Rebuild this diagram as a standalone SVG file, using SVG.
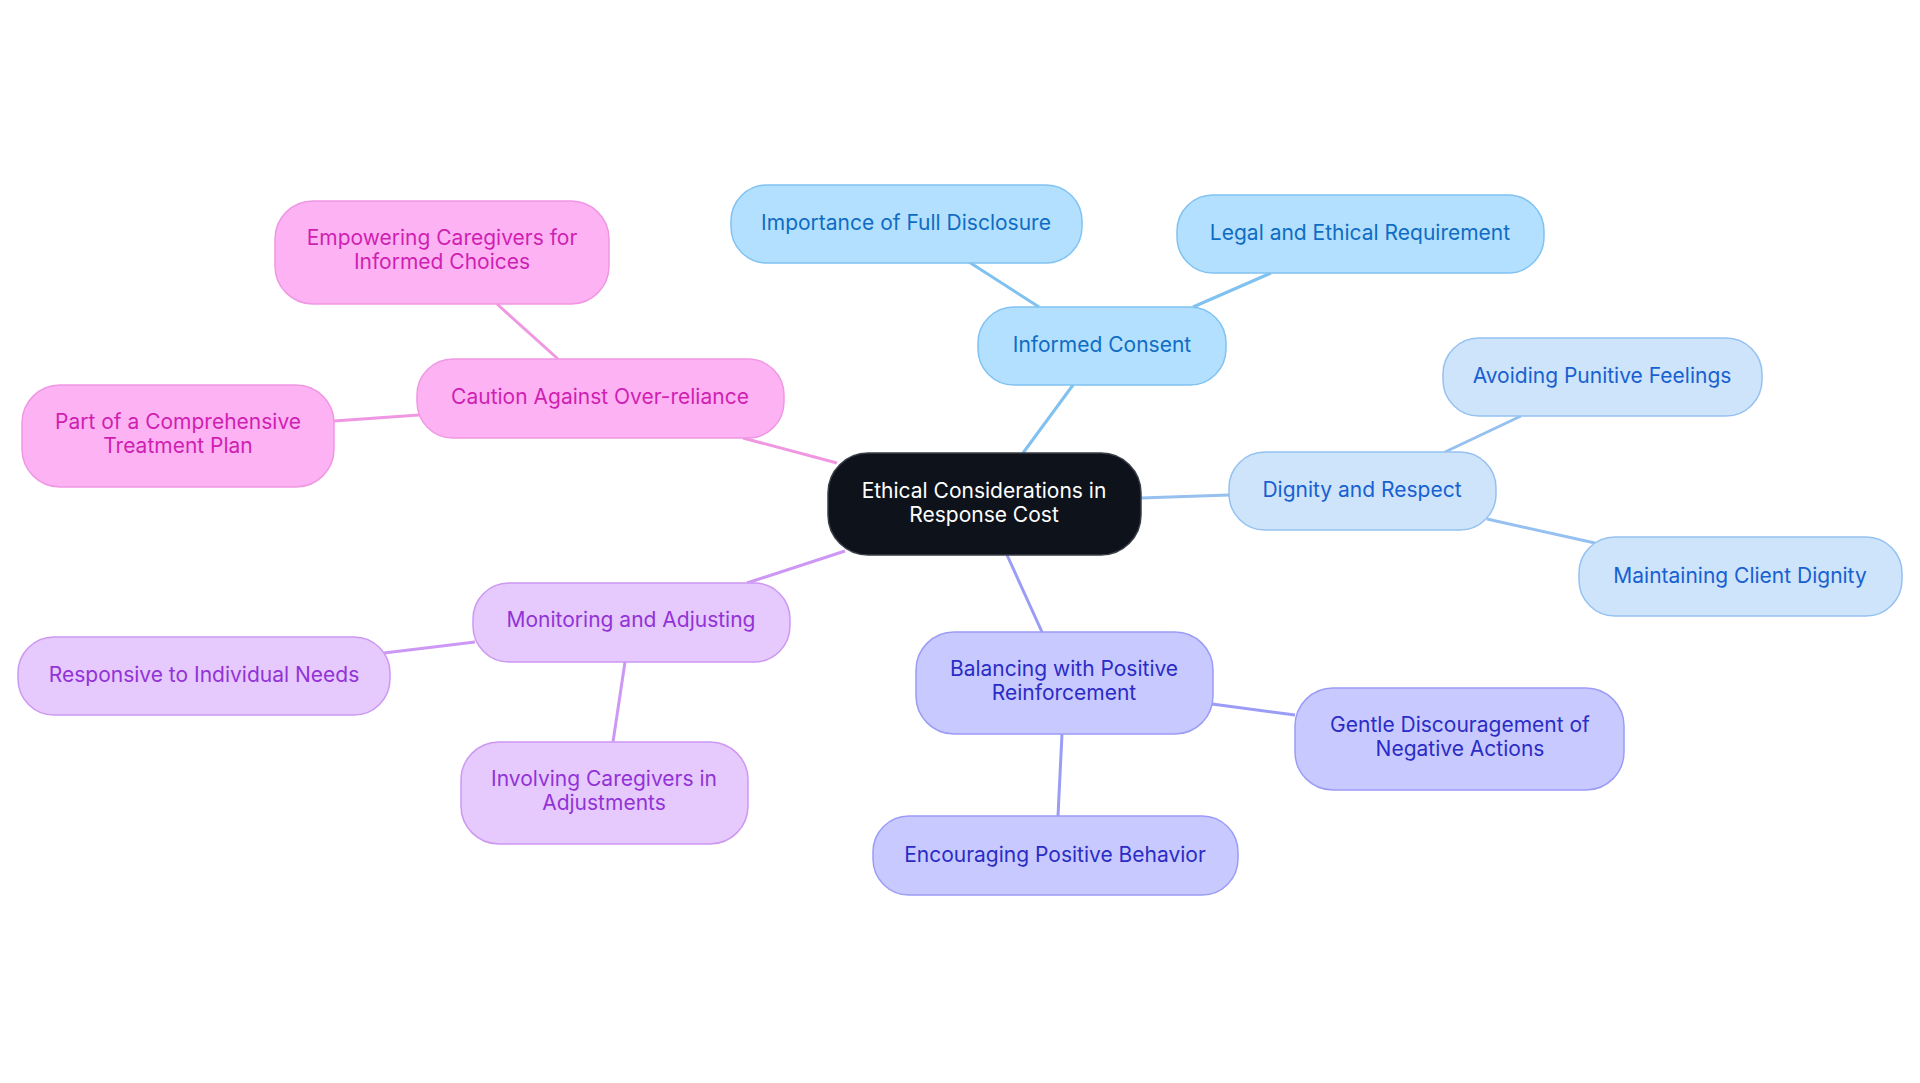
<svg xmlns="http://www.w3.org/2000/svg" width="1920" height="1083" viewBox="0 0 1920 1083">
<style>
text{font-family:Inter,"Noto Sans","Liberation Sans",sans-serif;font-size:21px;text-anchor:middle}
.c{fill:#0d121b;stroke:#3a3f47;stroke-width:1.5}
.ct{fill:#ffffff}
.b1{fill:#b3e0fe;stroke:#80c2f2;stroke-width:1.5}.t1{fill:#0f6cc4}
.b2{fill:#cde4fb;stroke:#95c1f1;stroke-width:1.5}.t2{fill:#1860d0}
.b3{fill:#c8caff;stroke:#9b9cf5;stroke-width:1.5}.t3{fill:#2b2cc6}
.b4{fill:#e6c9fd;stroke:#cd98f2;stroke-width:1.5}.t4{fill:#9233d6}
.b5{fill:#fdb3f3;stroke:#f097e4;stroke-width:1.5}.t5{fill:#cf1fb2}
.l{stroke-width:3;fill:none}
.l1{stroke:#7fc1f0}.l2{stroke:#95c0f0}.l3{stroke:#9b9cf5}.l4{stroke:#cd98f5}.l5{stroke:#f097e2}
</style>
<rect width="1920" height="1083" fill="#ffffff"/>
<g id="connectors">
<line class="l l1" x1="1023" y1="453" x2="1073" y2="385"/>
<line class="l l1" x1="1039" y1="307" x2="969" y2="262"/>
<line class="l l1" x1="1193" y1="307" x2="1271" y2="273"/>
<line class="l l2" x1="1141" y1="498" x2="1229" y2="495"/>
<line class="l l2" x1="1445" y1="452" x2="1521" y2="416"/>
<line class="l l2" x1="1487" y1="519" x2="1595" y2="543"/>
<line class="l l3" x1="1007" y1="555" x2="1042" y2="632"/>
<line class="l l3" x1="1212" y1="704" x2="1295" y2="715"/>
<line class="l l3" x1="1062" y1="734" x2="1058" y2="816"/>
<line class="l l4" x1="845" y1="551" x2="747" y2="583"/>
<line class="l l4" x1="475" y1="642" x2="384" y2="653"/>
<line class="l l4" x1="625" y1="662" x2="613" y2="742"/>
<line class="l l5" x1="837" y1="463" x2="743" y2="438"/>
<line class="l l5" x1="558" y1="359" x2="497" y2="304"/>
<line class="l l5" x1="419" y1="415" x2="334" y2="421"/>
</g>
<g id="center">
<rect class="c" x="828" y="453" width="313" height="102" rx="40"/>
<text class="ct" x="984" y="498">Ethical Considerations in</text>
<text class="ct" x="984" y="522">Response Cost</text>
</g>
<g id="informed-consent">
<rect class="b1" x="978" y="307" width="248" height="78" rx="36"/>
<text class="t1" x="1102" y="352">Informed Consent</text>
</g>
<g id="full-disclosure">
<rect class="b1" x="731" y="185" width="351" height="78" rx="36"/>
<text class="t1" x="906" y="230">Importance of Full Disclosure</text>
</g>
<g id="legal-ethical">
<rect class="b1" x="1177" y="195" width="367" height="78" rx="36"/>
<text class="t1" x="1360" y="240">Legal and Ethical Requirement</text>
</g>
<g id="dignity-respect">
<rect class="b2" x="1229" y="452" width="267" height="78" rx="36"/>
<text class="t2" x="1362" y="497">Dignity and Respect</text>
</g>
<g id="avoiding-punitive">
<rect class="b2" x="1443" y="338" width="319" height="78" rx="36"/>
<text class="t2" x="1602" y="383">Avoiding Punitive Feelings</text>
</g>
<g id="maintaining-dignity">
<rect class="b2" x="1579" y="537" width="323" height="79" rx="36"/>
<text class="t2" x="1740" y="583">Maintaining Client Dignity</text>
</g>
<g id="balancing">
<rect class="b3" x="916" y="632" width="297" height="102" rx="38"/>
<text class="t3" x="1064" y="676">Balancing with Positive</text>
<text class="t3" x="1064" y="700">Reinforcement</text>
</g>
<g id="gentle-discouragement">
<rect class="b3" x="1295" y="688" width="329" height="102" rx="38"/>
<text class="t3" x="1460" y="732">Gentle Discouragement of</text>
<text class="t3" x="1460" y="756">Negative Actions</text>
</g>
<g id="encouraging-positive">
<rect class="b3" x="873" y="816" width="365" height="79" rx="36"/>
<text class="t3" x="1055" y="862">Encouraging Positive Behavior</text>
</g>
<g id="monitoring">
<rect class="b4" x="473" y="583" width="317" height="79" rx="36"/>
<text class="t4" x="631" y="627">Monitoring and Adjusting</text>
</g>
<g id="responsive">
<rect class="b4" x="18" y="637" width="372" height="78" rx="36"/>
<text class="t4" x="204" y="682">Responsive to Individual Needs</text>
</g>
<g id="involving-caregivers">
<rect class="b4" x="461" y="742" width="287" height="102" rx="38"/>
<text class="t4" x="604" y="786">Involving Caregivers in</text>
<text class="t4" x="604" y="810">Adjustments</text>
</g>
<g id="caution">
<rect class="b5" x="417" y="359" width="367" height="79" rx="36"/>
<text class="t5" x="600" y="404">Caution Against Over-reliance</text>
</g>
<g id="empowering">
<rect class="b5" x="275" y="201" width="334" height="103" rx="38"/>
<text class="t5" x="442" y="245">Empowering Caregivers for</text>
<text class="t5" x="442" y="269">Informed Choices</text>
</g>
<g id="comprehensive-plan">
<rect class="b5" x="22" y="385" width="312" height="102" rx="38"/>
<text class="t5" x="178" y="429">Part of a Comprehensive</text>
<text class="t5" x="178" y="453">Treatment Plan</text>
</g>
</svg>
